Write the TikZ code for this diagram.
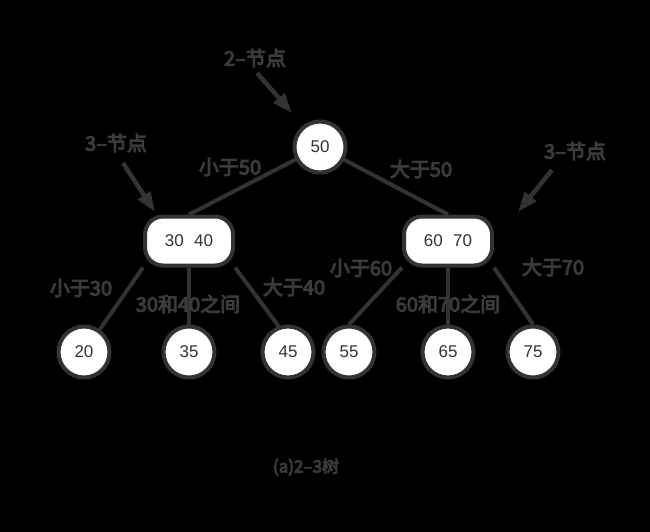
\documentclass[tikz,border=0pt]{standalone}
\usepackage{fontspec}
\setmainfont{Liberation Sans}
\newfontfamily\cjk{Noto Sans CJK SC}[AutoFakeBold=5]
\usetikzlibrary{arrows.meta}
\definecolor{ink}{HTML}{333333}
\definecolor{txt}{HTML}{3A3A3A}
\pgfdeclarelayer{back}
\pgfdeclarelayer{bg}
\pgfsetlayers{back,bg,main}
\tikzset{
  leaf/.style={circle, draw=ink, line width=4pt, fill=white, minimum size=51pt, inner sep=0pt,
    font=\fontsize{17}{20}\selectfont, text=ink},
  pair/.style={rectangle, rounded corners=18pt, draw=ink, line width=4pt, fill=white,
    minimum width=88pt, minimum height=49pt, inner sep=0pt,
    font=\fontsize{17}{20}\selectfont, text=ink},
  lbl/.style={font=\cjk\bfseries\fontsize{20}{22}\selectfont, text=txt, inner sep=0pt},
  captext/.style={font=\cjk\bfseries\fontsize{17}{19}\selectfont, text=txt, inner sep=0pt},
  link/.style={draw=ink, line width=4pt},
  pointer/.style={draw=ink, line width=4.5pt, -{Triangle[width=14pt,length=20pt]}}
}
\begin{document}
\begin{tikzpicture}[x=1pt,y=-1pt]
\begin{pgfonlayer}{back}
\fill[black] (0,0) rectangle (650,532);
\end{pgfonlayer}
\useasboundingbox (0,0) rectangle (650,532);
% nodes
\node[leaf] (root) at (320,147) {50};
\node[pair] (L) at (189,241) {30\hspace{0.6em}40};
\node[pair] (R) at (448,241) {60\hspace{0.6em}70};
\node[leaf] (n20) at (84,352) {20};
\node[leaf] (n35) at (189,352) {35};
\node[leaf] (n45) at (288,352) {45};
\node[leaf] (n55) at (349,352) {55};
\node[leaf] (n65) at (448,352) {65};
\node[leaf] (n75) at (533,352) {75};
% connectors
\begin{pgfonlayer}{bg}
\draw[link] (root.center) -- (L.north);
\draw[link] (root.center) -- (R.north);
\draw[link] (L.south west) -- (n20.55);
\draw[link] (L.south) -- (n35.north);
\draw[link] (L.south east) -- (n45.110);
\draw[link] (R.south west) -- (n55.north);
\draw[link] (R.south) -- (n65.north);
\draw[link] (R.south east) -- (n75.north);
\end{pgfonlayer}
% edge labels
\node[lbl] (l50) at (230,167) {小于50};
\node[lbl] (g50) at (421,169) {大于50};
\node[lbl] (l30) at (81,288) {小于30};
\node[lbl] (b3040) at (188,304) {30和40之间};
\node[lbl] (g40) at (294,287) {大于40};
\node[lbl] (l60) at (361,268) {小于60};
\node[lbl] (b6070) at (448,304) {60和70之间};
\node[lbl] (g70) at (553,267) {大于70};
% annotations
\node[lbl] (t2) at (255,58) {2–节点};
\node[lbl] (t3a) at (116,143) {3–节点};
\node[lbl] (t3b) at (575,151) {3–节点};
\coordinate (a1s) at (257,73);  \coordinate (a1e) at (292,113);
\coordinate (a2s) at (123,163); \coordinate (a2e) at (155,212);
\coordinate (a3s) at (552,170); \coordinate (a3e) at (518,212);
\draw[pointer] (a1s) -- (a1e);
\draw[pointer] (a2s) -- (a2e);
\draw[pointer] (a3s) -- (a3e);
% caption
\node[captext] (caption) at (306,467) {(a)2–3树};
\end{tikzpicture}
\end{document}
